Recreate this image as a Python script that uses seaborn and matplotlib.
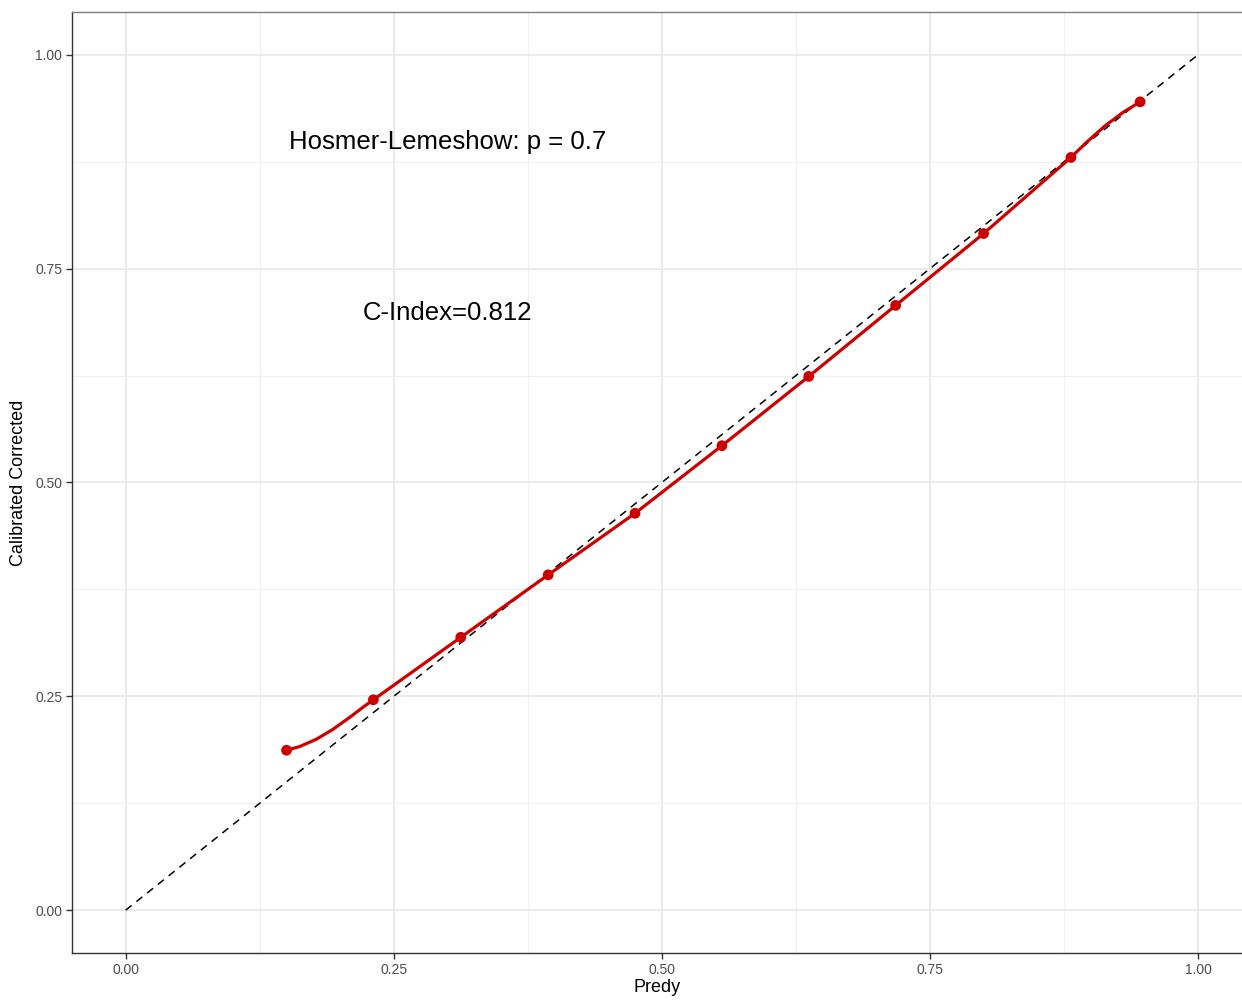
import numpy as np
import pandas as pd
import seaborn as sns
import matplotlib.pyplot as plt
from matplotlib.ticker import MultipleLocator

# calibration points (predicted vs calibrated corrected)
pred = [0.150, 0.231, 0.3125, 0.394, 0.475, 0.556, 0.637, 0.718, 0.800, 0.8815, 0.946]
calib = [0.187, 0.246, 0.319, 0.392, 0.464, 0.543, 0.624, 0.707, 0.791, 0.880, 0.945]

# smoothed curve
curve_x = [0.150, 0.1623, 0.1779, 0.1934, 0.209, 0.2214, 0.231, 0.3125, 0.394, 0.475,
           0.556, 0.637, 0.718, 0.800, 0.8815, 0.896, 0.913, 0.930, 0.946]
curve_y = [0.187, 0.1913, 0.1999, 0.2115, 0.2255, 0.2373, 0.246, 0.319, 0.392, 0.464,
           0.543, 0.624, 0.707, 0.791, 0.880, 0.8977, 0.9166, 0.9326, 0.945]

diag = [0.0, 1.0]
ticks = [0.00, 0.25, 0.50, 0.75, 1.00]
tick_labels = ["0.00", "0.25", "0.50", "0.75", "1.00"]

hl_text = "Hosmer-Lemeshow: p = 0.7"
c_text = "C-Index=0.812"

sns.set_style("ticks")
plt.rcParams['font.family'] = ['Liberation Sans', 'DejaVu Sans']

fig = plt.figure(figsize=(12.42, 10.01), dpi=100)
ax = fig.add_axes([0.058, 0.048, 0.942, 0.940])

pts = pd.DataFrame({"pred": pred, "calib": calib})
crv = pd.DataFrame({"x": curve_x, "y": curve_y})

ax.plot(diag, diag, color="black", lw=1.1, ls=(0, (5, 4)), zorder=2)
sns.lineplot(data=crv, x="x", y="y", color="#CD0000", lw=2.3, sort=False,
             estimator=None, ax=ax, zorder=3)
sns.scatterplot(data=pts, x="pred", y="calib", color="#CD0000", s=60,
                edgecolor="none", ax=ax, zorder=4)

ax.text(0.3, 0.898, hl_text, fontsize=18.5, color="black", ha="center", va="center")
ax.text(0.3, 0.698, c_text, fontsize=18.5, color="black", ha="center", va="center")

ax.set_xlim(-0.05, 1.041)
ax.set_ylim(-0.05, 1.05)
ax.set_xticks(ticks)
ax.set_xticklabels(tick_labels)
ax.set_yticks(ticks)
ax.set_yticklabels(tick_labels)
ax.xaxis.set_minor_locator(MultipleLocator(0.125))
ax.yaxis.set_minor_locator(MultipleLocator(0.125))
ax.tick_params(which="minor", length=0)
ax.tick_params(which="major", length=4, width=1, color="#333333",
               labelsize=10, labelcolor="#4D4D4D", pad=3)
ax.grid(which="major", color="#EBEBEB", lw=1.4)
ax.grid(which="minor", color="#F0F0F0", lw=0.8)
ax.set_axisbelow(True)

for s in ax.spines.values():
    s.set_color("#333333")
    s.set_linewidth(1.0)
ax.spines["right"].set_visible(False)
ax.spines["top"].set_color("#7F7F7F")

ax.set_xlabel("Predy", fontsize=13, color="black", labelpad=2)
ax.set_ylabel("Calibrated Corrected", fontsize=13, color="black", labelpad=6)

fig.savefig("out.png", dpi=100)
